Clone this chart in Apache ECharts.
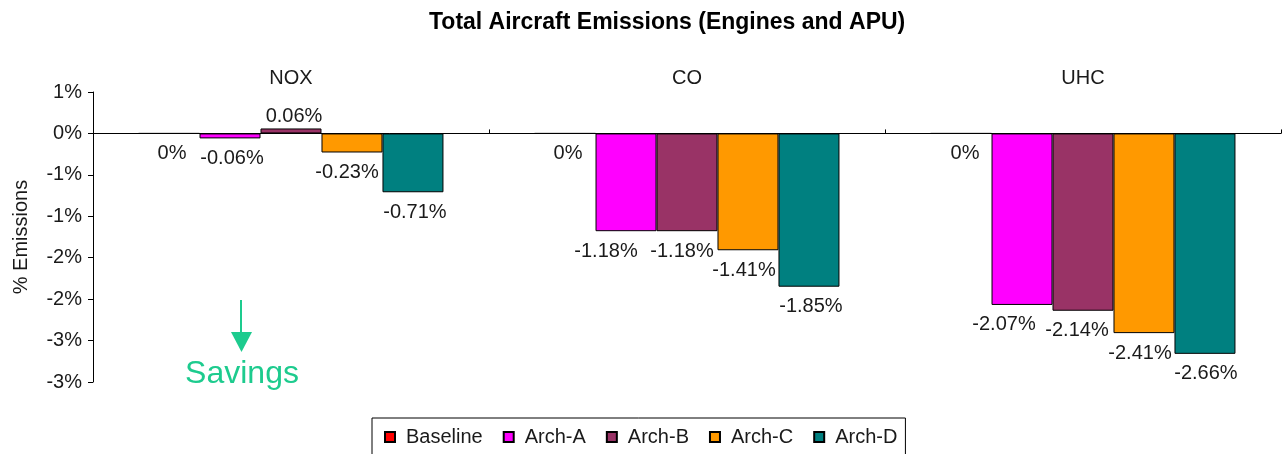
<!DOCTYPE html>
<html>
<head>
<meta charset="utf-8">
<title>Total Aircraft Emissions (Engines and APU)</title>
<script src="https://cdn.jsdelivr.net/npm/echarts@6/dist/echarts.min.js"></script>
<style>
  html, body { margin: 0; padding: 0; background: #ffffff; }
  #chart { width: 1284px; height: 454px; }
</style>
</head>
<body>
<div id="chart"></div>
<script>
// Emission groups along the category axis
const categories = ['NOX', 'CO', 'UHC'];

// Change in emissions relative to the baseline, in percent
const seriesNames = ['Baseline', 'Arch-A', 'Arch-B', 'Arch-C', 'Arch-D'];
const baseline = [0, 0, 0];
const archA = [-0.06, -1.18, -2.07];
const archB = [0.06, -1.18, -2.14];
const archC = [-0.23, -1.41, -2.41];
const archD = [-0.71, -1.85, -2.66];

// Value axis range and step (percent)
const yMin = -3;
const yMax = 0.5;
const yStep = 0.5;

const colors = ['#ff0000', '#ff00ff', '#993366', '#ff9900', '#008080'];
const FONT = "'Liberation Sans', Arial, Helvetica, sans-serif";

// Horizontal nudges for value labels that would otherwise crowd each other
const labelNudge = [
  [3, 3, 4],
  [2, -20, -18],
  [3, -5, -6],
  [-5, -4, -4],
  [2, 2, 1]
];

function pctLabel(v) {
  return v === 0 ? '0%' : v.toFixed(2) + '%';
}

// Whole-percent tick text, halves rounded away from zero
function tickLabel(v) {
  const r = Math.sign(v) * Math.round(Math.abs(v));
  return (r === 0 ? 0 : r) + '%';
}

const allValues = [baseline, archA, archB, archC, archD];

const series = allValues.map((vals, si) => ({
  name: seriesNames[si],
  type: 'bar',
  xAxisIndex: 0,
  barGap: '0%',
  barCategoryGap: '23%',
  itemStyle: { color: colors[si], borderColor: '#000000', borderWidth: 1 },
  label: {
    show: true,
    fontFamily: FONT,
    fontSize: 20,
    color: '#1a1a1a',
    formatter: p => pctLabel(p.value)
  },
  data: vals.map((v, ci) => ({
    value: v,
    label: {
      position: v > 0 ? 'top' : 'bottom',
      distance: v > 0 ? 2 : 10,
      offset: [labelNudge[si][ci], 0]
    }
  }))
}));

const chart = echarts.init(document.getElementById('chart'), null, { renderer: 'canvas' });

chart.setOption({
  backgroundColor: '#ffffff',
  animation: false,
  title: {
    text: 'Total Aircraft Emissions (Engines and APU)',
    left: 429,
    top: 11,
    padding: 0,
    textStyle: { fontFamily: FONT, fontSize: 23, fontWeight: 'bold', color: '#000000' }
  },
  legend: {
    data: seriesNames,
    left: 372,
    top: 418,
    orient: 'horizontal',
    padding: [9, 8, 40, 12],
    borderColor: '#000000',
    borderWidth: 1,
    itemWidth: 10,
    itemHeight: 10,
    itemGap: 20,
    icon: 'rect',
    textStyle: { fontFamily: FONT, fontSize: 20, color: '#1a1a1a', padding: [0, 0, 0, 6] }
  },
  grid: { left: 93, right: 3, top: 92, bottom: 72, containLabel: false },
  xAxis: [
    {
      type: 'category',
      data: categories,
      position: 'bottom',
      axisLine: { show: true, onZero: true, lineStyle: { color: '#000000', width: 1 } },
      axisTick: { show: true, inside: true, length: 4, alignWithLabel: false, lineStyle: { color: '#000000' } },
      axisLabel: { show: false },
      splitLine: { show: false }
    },
    {
      type: 'category',
      data: categories,
      position: 'top',
      axisLine: { show: false },
      axisTick: { show: false },
      axisLabel: { show: true, margin: 4, fontFamily: FONT, fontSize: 20, color: '#1a1a1a' },
      splitLine: { show: false }
    }
  ],
  yAxis: {
    type: 'value',
    min: yMin,
    max: yMax,
    interval: yStep,
    name: '% Emissions',
    nameLocation: 'middle',
    nameGap: 62,
    nameRotate: 90,
    nameTextStyle: { fontFamily: FONT, fontSize: 20, color: '#1a1a1a' },
    axisLine: { show: true, lineStyle: { color: '#000000', width: 1 } },
    axisTick: { show: true, inside: false, length: 5, lineStyle: { color: '#000000' } },
    axisLabel: { margin: 11, fontFamily: FONT, fontSize: 20, color: '#1a1a1a', formatter: tickLabel },
    splitLine: { show: false }
  },
  series: series,
  graphic: [
    {
      type: 'line',
      shape: { x1: 241, y1: 300, x2: 241, y2: 334 },
      style: { stroke: '#1dcb8e', lineWidth: 2 }
    },
    {
      type: 'polygon',
      shape: { points: [[231, 332], [252, 332], [241.5, 352]] },
      style: { fill: '#1dcb8e' }
    },
    {
      type: 'text',
      x: 242,
      y: 374,
      style: {
        text: 'Savings',
        fontFamily: FONT,
        fontSize: 32,
        fill: '#1dcb8e',
        align: 'center',
        verticalAlign: 'middle'
      }
    }
  ]
});
</script>
</body>
</html>
